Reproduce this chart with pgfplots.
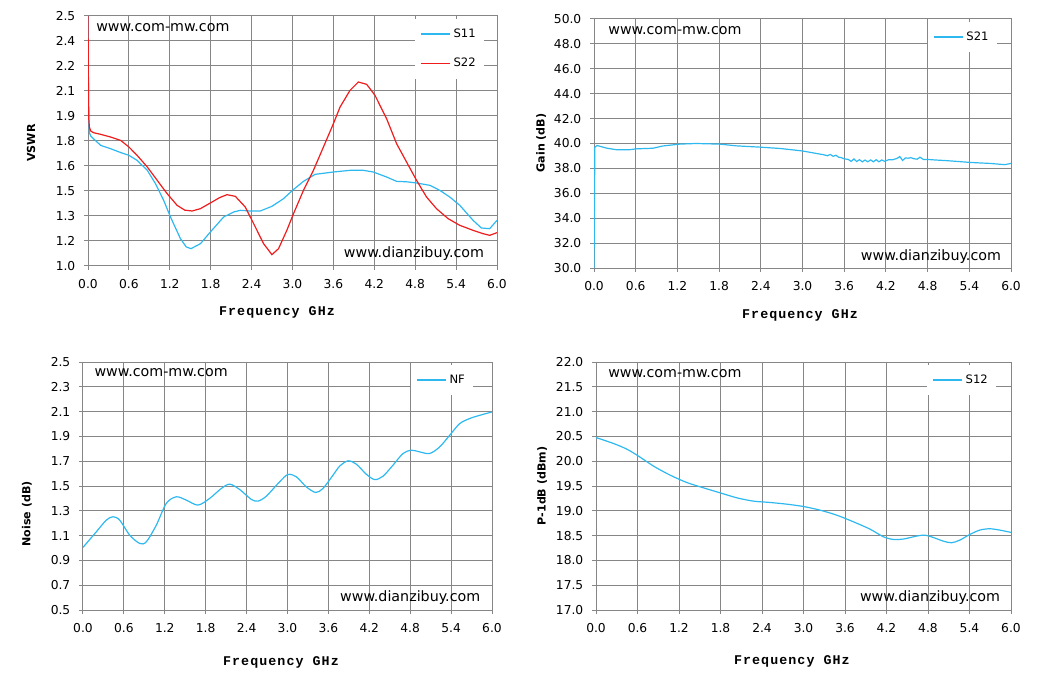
\documentclass[border=0pt]{standalone}
\usepackage{pgfplots}
\pgfplotsset{compat=1.18}
\usepackage{fontspec}
\setmainfont{DejaVu Sans}
\newfontfamily\xlabfont[LetterSpace=8]{Liberation Mono}
\definecolor{cblue}{RGB}{45,185,240}
\definecolor{cred}{RGB}{240,28,28}
\definecolor{cgrid}{RGB}{134,134,134}
\tikzset{wm/.style={font=\fontsize{10.7}{12}\selectfont, inner sep=0pt}}
\pgfplotsset{
  nf/.style={/pgf/number format/fixed, /pgf/number format/fixed zerofill, /pgf/number format/precision=1, /pgf/number format/assume math mode=true},
  myax/.style={
    scale only axis,
    xmin=0, xmax=6,
    xtick={0,0.6,1.2,1.8,2.4,3.0,3.6,4.2,4.8,5.4,6.0},
    xticklabels={0.0,0.6,1.2,1.8,2.4,3.0,3.6,4.2,4.8,5.4,6.0},
    grid=major,
    grid style={cgrid, line width=0.75pt},
    axis line style={cgrid, line width=0.75pt},
    tick style={cgrid, line width=0.75pt},
    tick align=outside,
    major tick length=3pt,
    xtick pos=bottom, ytick pos=left,
    /pgf/number format/assume math mode=true,
    ticklabel style={font=\fontsize{9.2}{10}\selectfont},
    xticklabel style={yshift=-4pt, text height=6.6pt, text depth=0pt},
    yticklabel style={xshift=-3pt},
    xlabel={Frequency GHz},
    xlabel style={font=\xlabfont\bfseries\fontsize{10}{12}\selectfont, anchor=center},
    ylabel style={font=\bfseries\fontsize{8.3}{10}\selectfont, anchor=center},
    legend style={draw=none, fill=white, font=\fontsize{8.7}{10}\selectfont,
      inner xsep=4pt, inner ysep=5.5pt, row sep=10pt, anchor=north east},
    legend cell align=left,
    legend image code/.code={\draw[#1] (0pt,0pt) -- (22pt,0pt);},
    every axis plot/.append style={line width=0.9pt, no marks},
  },
}
\begin{document}
\begin{tikzpicture}
\path[use as bounding box] (0,0) rectangle (781.5pt,509.25pt);

% ---------------- VSWR ----------------
\begin{axis}[myax,
  at={(66pt,309.75pt)}, anchor=south west,
  width=306.75pt, height=187.5pt,
  ymin=1.0, ymax=2.5,
  ytick={1.0,1.15,1.3,1.45,1.6,1.75,1.9,2.05,2.2,2.35,2.5},
  yticklabels={1.0,1.2,1.3,1.5,1.6,1.8,1.9,2.1,2.2,2.4,2.5},
  ylabel={VSWR},
  xlabel style={at={(axis description cs:0.462,-0.184)}},
  ylabel style={at={(axis description cs:-0.139,0.492)}},
  legend style={at={(axis description cs:0.968,0.99)}},
]
\addplot[cblue] coordinates {
(0.0,2.5)(0.004,2.2)(0.008,1.98)(0.012,1.86)(0.02,1.8)(0.04,1.78)(0.08,1.764)
(0.185,1.724)(0.33,1.704)(0.45,1.685)(0.6,1.664)(0.72,1.634)(0.87,1.574)(0.99,1.494)
(1.11,1.394)(1.21,1.294)(1.356,1.164)(1.44,1.115)(1.51,1.104)(1.65,1.134)(1.795,1.204)
(1.99,1.294)(2.137,1.324)(2.234,1.334)(2.38,1.33)(2.527,1.33)(2.698,1.358)(2.868,1.404)
(3.0,1.454)(3.161,1.508)(3.332,1.55)(3.6,1.564)(3.844,1.574)(4.039,1.574)(4.185,1.564)
(4.38,1.534)(4.527,1.508)(4.68,1.505)(4.82,1.498)(5.015,1.484)(5.161,1.454)(5.307,1.414)
(5.454,1.364)(5.649,1.274)(5.771,1.228)(5.893,1.224)(6.0,1.274)};
\addlegendentry{S11}
\addplot[cred] coordinates {
(0.0,2.5)(0.004,2.25)(0.008,2.0)(0.012,1.88)(0.02,1.834)(0.04,1.81)(0.08,1.8)
(0.185,1.79)(0.33,1.774)(0.478,1.754)(0.6,1.714)(0.72,1.664)(0.87,1.594)(1.015,1.514)
(1.161,1.434)(1.307,1.364)(1.42,1.335)(1.527,1.33)(1.649,1.344)(1.82,1.384)(1.93,1.41)
(2.039,1.428)(2.161,1.418)(2.307,1.354)(2.43,1.254)(2.576,1.134)(2.698,1.068)(2.795,1.104)
(2.917,1.214)(3.015,1.314)(3.161,1.454)(3.307,1.574)(3.454,1.714)(3.6,1.854)(3.698,1.954)
(3.844,2.054)(3.966,2.104)(4.088,2.09)(4.21,2.024)(4.38,1.884)(4.527,1.734)(4.673,1.624)
(4.82,1.514)(4.966,1.414)(5.112,1.344)(5.283,1.284)(5.454,1.244)(5.649,1.214)(5.795,1.194)
(5.893,1.184)(6.0,1.2)};
\addlegendentry{S22}
\node[wm] at (axis description cs:0.183,0.952) {www.com-mw.com};
\node[wm] at (axis description cs:0.797,0.048) {www.dianzibuy.com};
\end{axis}

% ---------------- Gain ----------------
\begin{axis}[myax,
  at={(445.5pt,308.25pt)}, anchor=south west,
  width=312.75pt, height=186.75pt,
  ymin=30, ymax=50,
  ytick={30,32,...,50},
  yticklabel style={nf},
  ylabel={Gain (dB)},
  xlabel style={at={(axis description cs:0.494,-0.189)}},
  ylabel style={at={(axis description cs:-0.127,0.502)}},
  legend style={at={(axis description cs:0.966,0.99)}},
]
\addplot[cblue] coordinates {
(0.0,30)(0.012,39.7)(0.043,39.84)(0.18,39.63)(0.32,39.5)(0.51,39.5)(0.61,39.57)
(0.85,39.62)(0.99,39.8)(1.23,39.95)(1.47,40.0)(1.81,39.95)(2.05,39.81)(2.38,39.71)
(2.68,39.6)(3.0,39.4)(3.15,39.25)(3.3,39.1)(3.36,39.02)(3.40,39.12)(3.44,38.97)(3.48,39.06)
(3.52,38.9)(3.56,38.86)(3.6,38.77)(3.66,38.72)(3.70,38.56)(3.74,38.76)(3.78,38.55)
(3.82,38.7)(3.86,38.53)(3.90,38.67)(3.94,38.53)(3.98,38.68)(4.02,38.53)(4.06,38.7)(4.10,38.53)
(4.14,38.68)(4.18,38.57)(4.24,38.7)(4.30,38.7)(4.36,38.8)(4.40,38.95)(4.44,38.64)(4.48,38.84)
(4.52,38.82)(4.56,38.86)(4.60,38.78)(4.65,38.74)(4.69,38.9)(4.74,38.72)(4.80,38.72)
(4.9,38.68)(5.08,38.62)(5.25,38.55)(5.41,38.48)(5.55,38.44)(5.7,38.4)(5.91,38.3)(6.0,38.4)};
\addlegendentry{S21}
\node[wm] at (axis description cs:0.194,0.952) {www.com-mw.com};
\node[wm] at (axis description cs:0.808,0.044) {www.dianzibuy.com};
\end{axis}

% ---------------- Noise ----------------
\begin{axis}[myax,
  at={(62.25pt,51.75pt)}, anchor=south west,
  width=306.75pt, height=186pt,
  ymin=0.5, ymax=2.5,
  ytick={0.5,0.7,...,2.51},
  yticklabel style={nf},
  ylabel={Noise (dB)},
  xlabel style={at={(axis description cs:0.484,-0.21)}},
  ylabel style={at={(axis description cs:-0.137,0.387)}},
  legend style={at={(axis description cs:0.954,0.99)}},
]
\addplot[cblue, smooth] coordinates {
(0.0,1.005)(0.196,1.131)(0.342,1.225)(0.44,1.252)(0.538,1.225)(0.685,1.104)(0.831,1.037)
(0.929,1.05)(1.076,1.185)(1.222,1.36)(1.369,1.413)(1.516,1.386)(1.687,1.346)(1.858,1.4)
(2.029,1.48)(2.152,1.515)(2.298,1.472)(2.469,1.392)(2.567,1.378)(2.689,1.418)(2.885,1.534)
(3.007,1.593)(3.13,1.574)(3.276,1.493)(3.413,1.448)(3.52,1.48)(3.667,1.587)(3.765,1.66)
(3.888,1.703)(4.01,1.676)(4.156,1.595)(4.279,1.552)(4.401,1.579)(4.548,1.668)(4.694,1.762)
(4.817,1.789)(4.939,1.775)(5.086,1.762)(5.232,1.815)(5.379,1.909)(5.526,2.003)(5.672,2.044)
(5.819,2.07)(6.0,2.097)};
\addlegendentry{NF}
\node[wm] at (axis description cs:0.191,0.956) {www.com-mw.com};
\node[wm] at (axis description cs:0.8,0.052) {www.dianzibuy.com};
\end{axis}

% ---------------- P-1dB ----------------
\begin{axis}[myax,
  at={(447pt,51.75pt)}, anchor=south west,
  width=311.25pt, height=186pt,
  ymin=17, ymax=22,
  ytick={17,17.5,...,22.01},
  yticklabel style={nf},
  ylabel={P-1dB (dBm)},
  xlabel style={at={(axis description cs:0.472,-0.206)}},
  ylabel style={at={(axis description cs:-0.130,0.5)}},
  legend style={at={(axis description cs:0.964,0.99)}},
]
\addplot[cblue, smooth] coordinates {
(0.0,20.477)(0.255,20.356)(0.447,20.242)(0.616,20.101)(0.833,19.9)(1.073,19.718)(1.314,19.57)
(1.554,19.463)(1.795,19.362)(2.036,19.262)(2.276,19.195)(2.517,19.168)(2.757,19.134)(2.998,19.087)
(3.239,19.013)(3.479,18.913)(3.72,18.779)(3.961,18.631)(4.153,18.477)(4.297,18.423)(4.442,18.43)
(4.634,18.49)(4.755,18.51)(4.875,18.463)(5.02,18.389)(5.14,18.356)(5.26,18.409)(5.405,18.523)
(5.549,18.611)(5.693,18.638)(5.838,18.611)(6.0,18.564)};
\addlegendentry{S12}
\node[wm] at (axis description cs:0.19,0.952) {www.com-mw.com};
\node[wm] at (axis description cs:0.805,0.052) {www.dianzibuy.com};
\end{axis}
\end{tikzpicture}
\end{document}
